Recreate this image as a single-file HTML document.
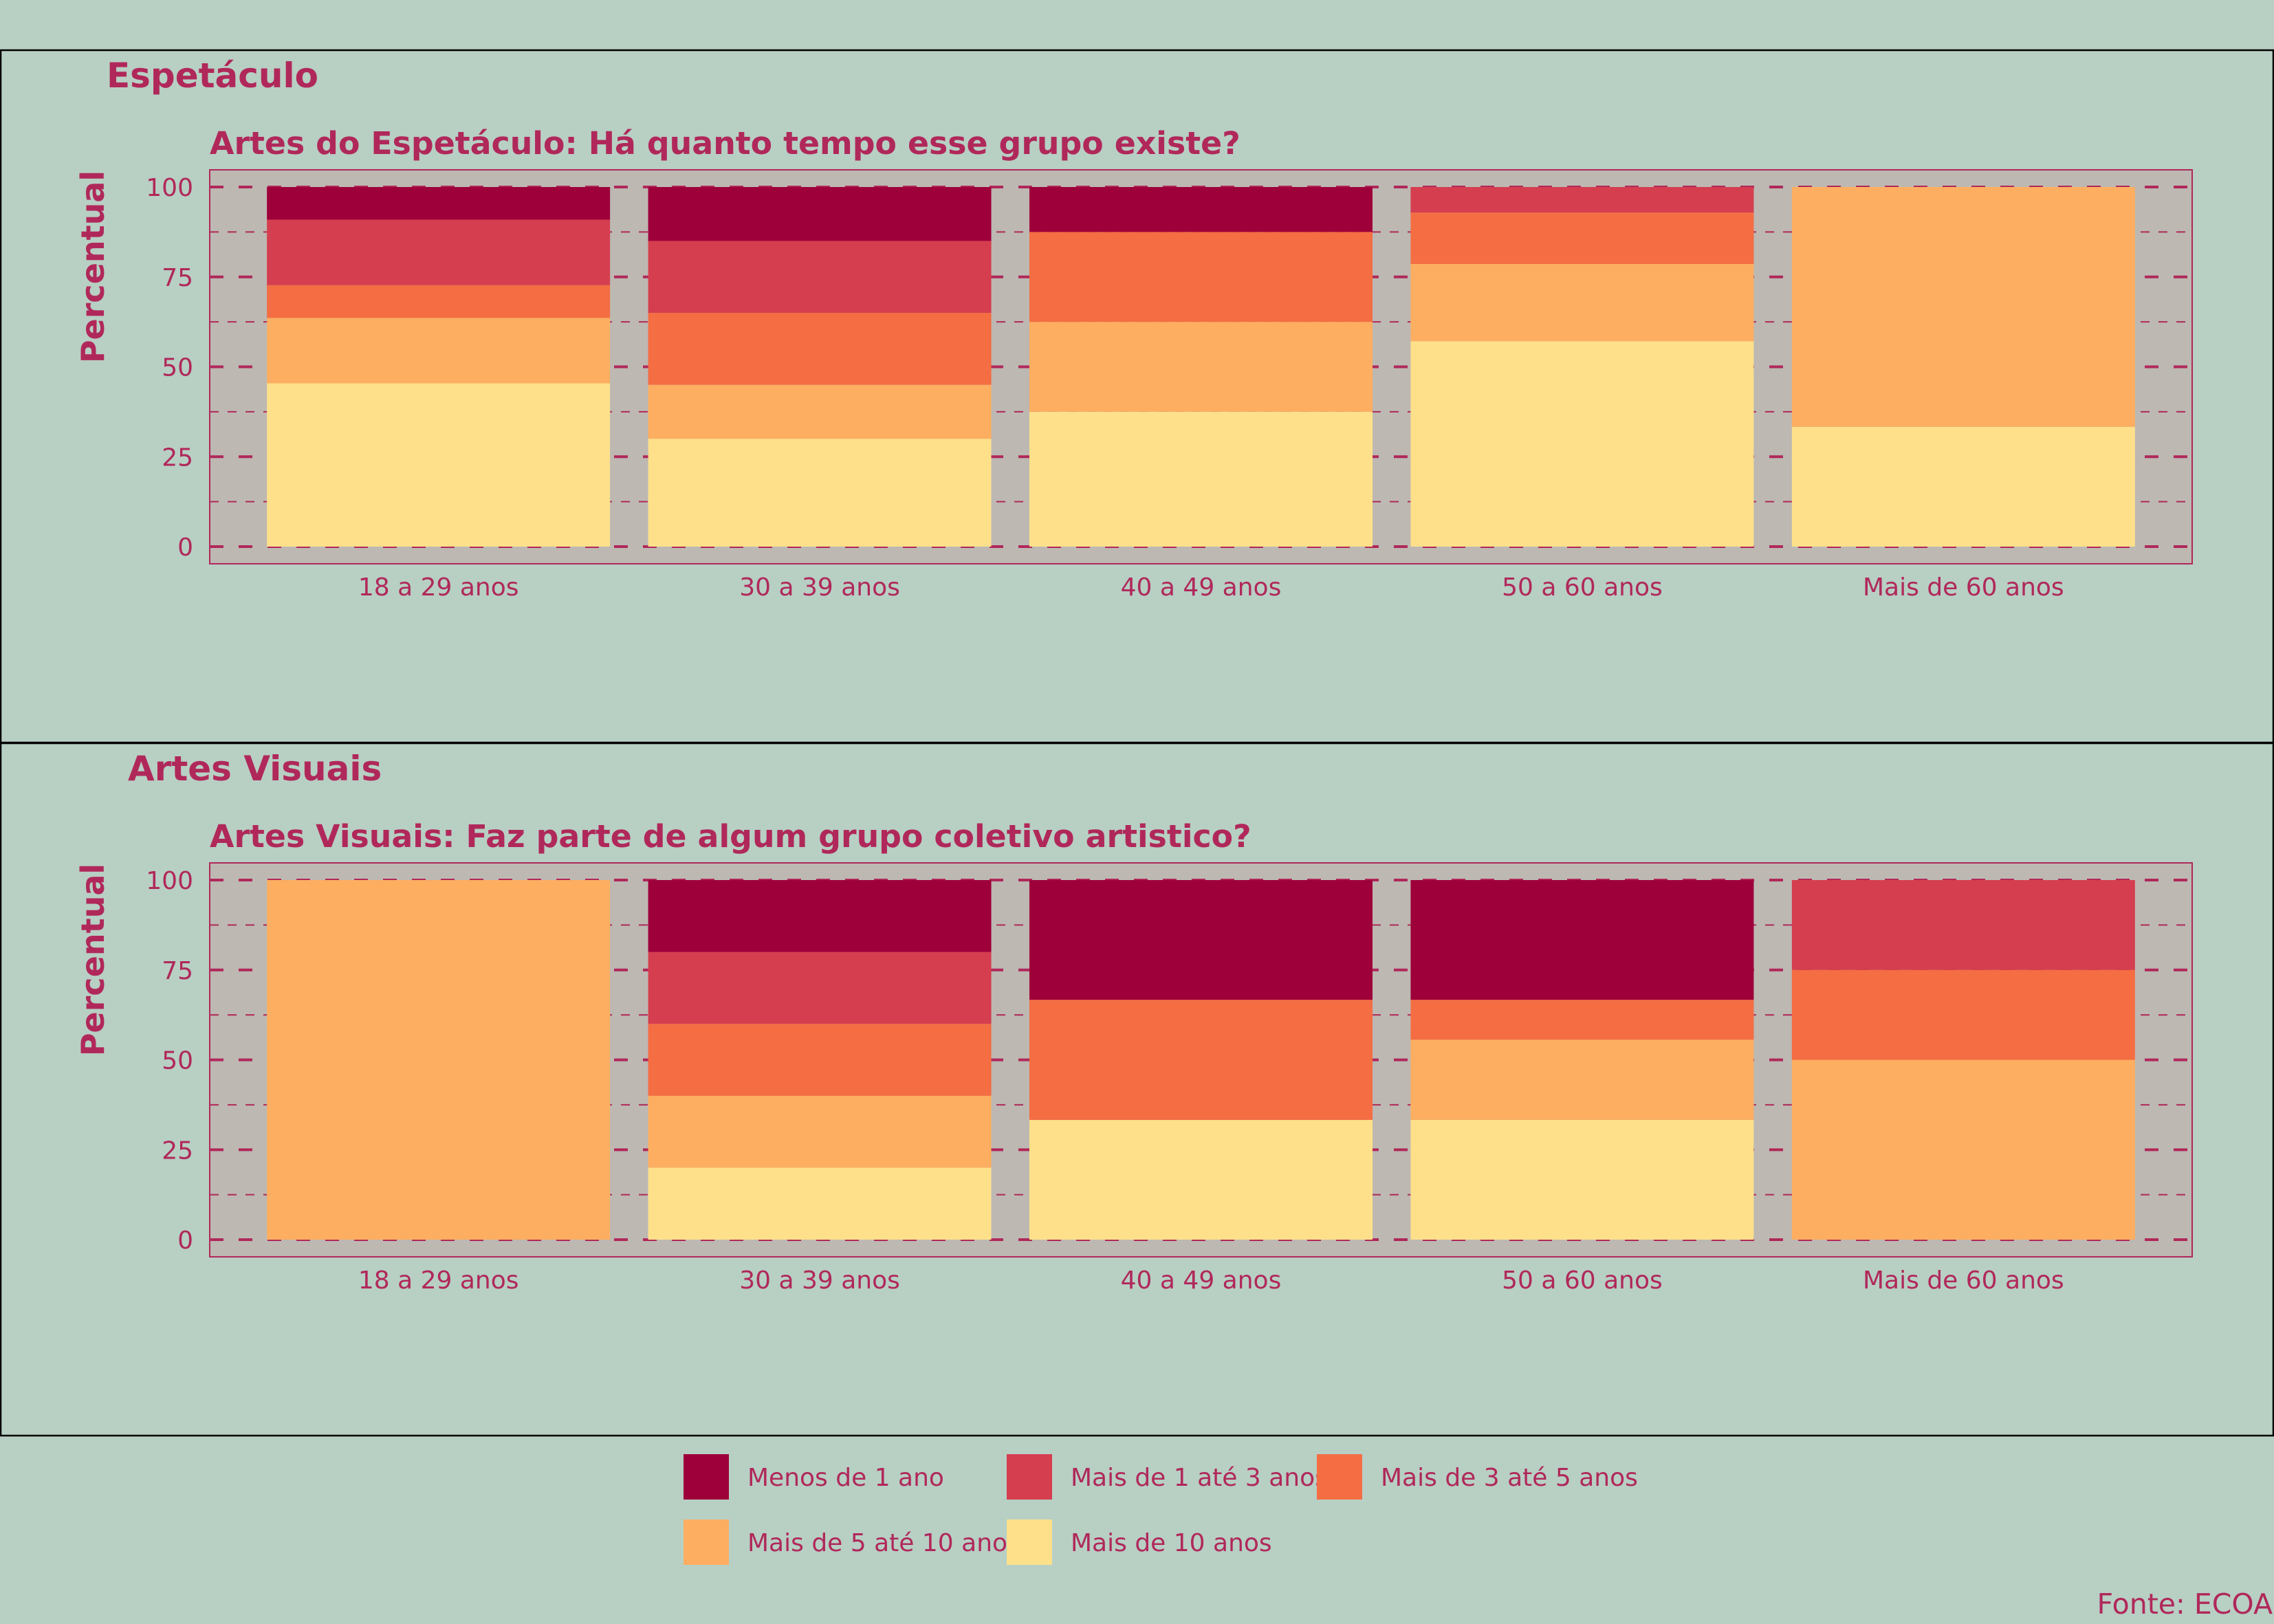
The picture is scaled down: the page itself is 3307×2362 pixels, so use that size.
<!DOCTYPE html>
<html><head><meta charset="utf-8"><style>
html,body{margin:0;padding:0;background:#b8cfc4;}
svg{display:block;font-family:"DejaVu Sans","Liberation Sans",sans-serif;}
</style></head><body>
<svg id="chart" width="3307" height="2362" viewBox="0 0 3307 2362" xmlns="http://www.w3.org/2000/svg">
<rect x="0" y="0" width="3307" height="2362" fill="#b8cfc4"/>
</svg>
<script>
const categories = ["18 a 29 anos","30 a 39 anos","40 a 49 anos","50 a 60 anos","Mais de 60 anos"];
const seriesNames = ["Menos de 1 ano","Mais de 1 até 3 anos","Mais de 3 até 5 anos","Mais de 5 até 10 anos","Mais de 10 anos"];
const seriesColors = ["#9e003a","#d53e4f","#f46d43","#fdae61","#fee08b"];
// panel 1: Artes do Espetáculo (percent per category, series order as seriesNames)
const esp_menos1 = [9.1, 15, 12.5, 0, 0];
const esp_1a3 = [18.2, 20, 0, 7.1, 0];
const esp_3a5 = [9.1, 20, 25, 14.3, 0];
const esp_5a10 = [18.2, 15, 25, 21.5, 66.7];
const esp_mais10 = [45.4, 30, 37.5, 57.1, 33.3];
// panel 2: Artes Visuais
const vis_menos1 = [0, 20, 33.3, 33.3, 0];
const vis_1a3 = [0, 20, 0, 0, 25];
const vis_3a5 = [0, 20, 33.4, 11.1, 25];
const vis_5a10 = [100, 20, 0, 22.3, 50];
const vis_mais10 = [0, 20, 33.3, 33.3, 0];
const yTicks = [0, 25, 50, 75, 100];
const yMinorTicks = [12.5, 37.5, 62.5, 87.5];

const NS = "http://www.w3.org/2000/svg";
const svg = document.getElementById('chart');
const TXT = "#b0285a";
function mk(tag, attrs, parent) {
  const e = document.createElementNS(NS, tag);
  for (const k in attrs) e.setAttribute(k, attrs[k]);
  (parent || svg).appendChild(e);
  return e;
}
const PX0 = 305, PX1 = 3188;
const band = (PX1 - PX0) / 5.2;
function xCenter(i) { return PX0 + band * (0.6 + i); }

function panel(off, facet, facetX, title, series, pname) {
  const g = mk('g', {});
  
  
  const frame = mk('rect', {x: 1, y: 73 + off, width: 3305, height: 1007, fill: 'none', stroke: '#000', 'stroke-width': 2.5}, g);
  
  
  const ft = mk('text', {x: facetX, y: 127 + off, 'font-size': 50, 'font-weight': 'bold', fill: TXT}, g);
  ft.textContent = facet;
  
  
  const st = mk('text', {x: 305, y: 224 + off, 'font-size': 45.8, 'font-weight': 'bold', fill: TXT}, g);
  st.textContent = title;
  
  
  const top = 247 + off, bot = 820 + off;
  const y0 = 795 + off, y100 = 272 + off;
  const y = v => y0 - (y0 - y100) * v / 100;
  const bg = mk('rect', {x: PX0, y: top, width: PX1 - PX0, height: bot - top, fill: '#bdb8b2'}, g);
  
  
  yMinorTicks.forEach(t => {
    const l = mk('line', {x1: PX0, x2: PX1, y1: y(t), y2: y(t), stroke: TXT, 'stroke-width': 2, 'stroke-dasharray': '13 13'}, g);
    
    
  });
  yTicks.forEach(t => {
    const l = mk('line', {x1: PX0, x2: PX1, y1: y(t), y2: y(t), stroke: TXT, 'stroke-width': 4, 'stroke-dasharray': '20 22'}, g);
    
    
    const tl = mk('text', {x: 281, y: y(t) + 13, 'font-size': 36, fill: TXT, 'text-anchor': 'end'}, g);
    tl.textContent = t;
    
    
  });
  const bw = band * 0.9;
  categories.forEach((c, i) => {
    let cum = 0;
    for (let s = 4; s >= 0; s--) {
      const v = series[s][i];
      if (v > 0) {
        const r = mk('rect', {x: xCenter(i) - bw / 2, y: y(cum + v), width: bw, height: y(cum) - y(cum + v), fill: seriesColors[s]}, g);
        
        
      }
      cum += v;
    }
    const xl = mk('text', {x: xCenter(i), y: bot + 46, 'font-size': 36, fill: TXT, 'text-anchor': 'middle'}, g);
    xl.textContent = c;
    
    
  });
  const border = mk('rect', {x: PX0, y: top, width: PX1 - PX0, height: bot - top, fill: 'none', stroke: TXT, 'stroke-width': 2}, g);
  
  
  const yt = mk('text', {x: 0, y: 0, 'font-size': 46, 'font-weight': 'bold', fill: TXT, 'text-anchor': 'middle', transform: 'translate(151,' + (388 + off) + ') rotate(-90)'}, g);
  yt.textContent = 'Percentual';
  
  
}
panel(0, 'Espetáculo', 155, 'Artes do Espetáculo: Há quanto tempo esse grupo existe?',
  [esp_menos1, esp_1a3, esp_3a5, esp_5a10, esp_mais10], 'panel-espetaculo');
panel(1008, 'Artes Visuais', 186, 'Artes Visuais: Faz parte de algum grupo coletivo artistico?',
  [vis_menos1, vis_1a3, vis_3a5, vis_5a10, vis_mais10], 'panel-artes-visuais');

const legPos = [[994, 2115], [1464, 2115], [1915, 2115], [994, 2210], [1464, 2210]];
const lg = mk('g', {});


seriesNames.forEach((n, i) => {
  const [lx, ly] = legPos[i];
  const k = mk('rect', {x: lx, y: ly, width: 66, height: 66, fill: seriesColors[i]}, lg);
  
  
  const t = mk('text', {x: lx + 93, y: ly + 46, 'font-size': 36, fill: TXT}, lg);
  t.textContent = n;
  
  
});
const src = mk('text', {x: 3305, y: 2347, 'font-size': 41, fill: TXT, 'text-anchor': 'end'});
src.textContent = 'Fonte: ECOA';


</script>
</body></html>
